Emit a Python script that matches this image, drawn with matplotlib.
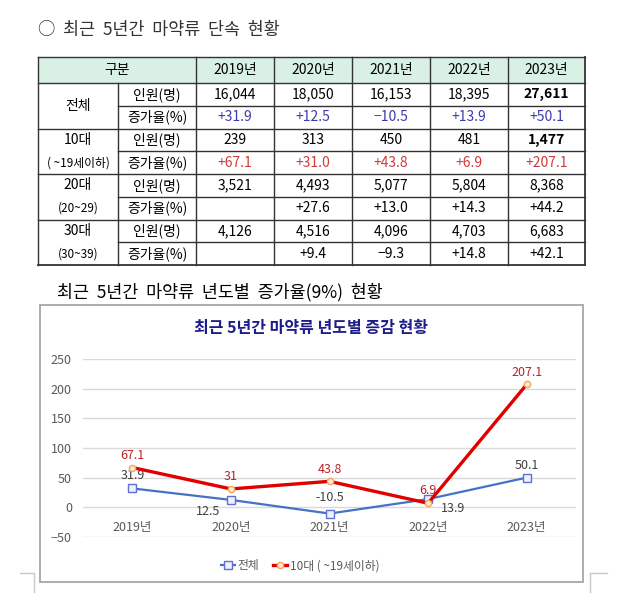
import numpy as np
import matplotlib
matplotlib.use('Agg')
import matplotlib.pyplot as plt
from matplotlib.patches import Rectangle

plt.rcParams['font.family'] = ['Noto Sans CJK KR', 'DejaVu Sans']

# data
years = ['2019년', '2020년', '2021년', '2022년', '2023년']
groups = ['전체', '10대', '20대', '30대']
group_notes = ['', '( ~19세이하)', '(20~29)', '(30~39)']
row_kinds = ['인원(명)', '증가율(%)']

count_all = [16044, 18050, 16153, 18395, 27611]
count_10s = [239, 313, 450, 481, 1477]
count_20s = [3521, 4493, 5077, 5804, 8368]
count_30s = [4126, 4516, 4096, 4703, 6683]

rate_all = [31.9, 12.5, -10.5, 13.9, 50.1]
rate_10s = [67.1, 31.0, 43.8, 6.9, 207.1]
rate_20s = [None, 27.6, 13.0, 14.3, 44.2]
rate_30s = [None, 9.4, -9.3, 14.8, 42.1]

series_names = ['전체', '10대 ( ~19세이하)']

counts = [count_all, count_10s, count_20s, count_30s]
rates = [rate_all, rate_10s, rate_20s, rate_30s]

W, H = 626, 600
fig = plt.figure(figsize=(W / 100, H / 100), dpi=100)

# background axes in pixel units (headings, table, frame)
bg = fig.add_axes([0, 0, 1, 1])
bg.set_xlim(0, W)
bg.set_ylim(H, 0)
bg.axis('off')

bg.text(38, 30, '○  최근  5년간  마약류  단속  현황', fontsize=12.5, va='center', color='#333333')

# table
col_x = [38, 118, 196, 274, 352, 430, 508, 585]
head_top, head_bot = 57, 83
row_h = 22.75
row_y = [head_bot + i * row_h for i in range(9)]
line_c = '#333333'
rate_colors = ['#3b3bb0', '#d03a3a', 'black', 'black']
bold_last = [True, True, False, False]

bg.add_patch(Rectangle((col_x[0], head_top), col_x[-1] - col_x[0], head_bot - head_top,
                       facecolor='#d9f1e5', edgecolor='none'))
bg.text((col_x[0] + col_x[2]) / 2, (head_top + head_bot) / 2, '구분', ha='center', va='center', fontsize=10)
for i, y in enumerate(years):
    bg.text((col_x[i + 2] + col_x[i + 3]) / 2, (head_top + head_bot) / 2, y,
            ha='center', va='center', fontsize=10)

# grid lines
bg.plot([col_x[0], col_x[-1]], [head_top, head_top], color=line_c, lw=1)
for g in range(len(groups)):
    bg.plot([col_x[0], col_x[-1]], [row_y[2 * g], row_y[2 * g]], color=line_c, lw=1)
    bg.plot([col_x[1], col_x[-1]], [row_y[2 * g + 1], row_y[2 * g + 1]], color=line_c, lw=1)
bg.plot([col_x[0], col_x[-1]], [row_y[-1], row_y[-1]], color=line_c, lw=1.3)
for k, xx in enumerate(col_x):
    top = head_bot if k == 1 else head_top
    bg.plot([xx, xx], [top, row_y[-1]], color=line_c, lw=1.3 if k == len(col_x) - 1 else 1)

def fmt_rate(v):
    if v is None:
        return ''
    return ('+' if v >= 0 else '−') + '{:.1f}'.format(abs(v))

for g in range(len(groups)):
    cx0 = (col_x[0] + col_x[1]) / 2
    if group_notes[g]:
        bg.text(cx0, (row_y[2 * g] + row_y[2 * g + 1]) / 2, groups[g], ha='center', va='center', fontsize=10)
        bg.text(cx0, (row_y[2 * g + 1] + row_y[2 * g + 2]) / 2, group_notes[g], ha='center', va='center', fontsize=8.5)
    else:
        bg.text(cx0, row_y[2 * g + 1], groups[g], ha='center', va='center', fontsize=10)
    for r in range(2):
        cy = (row_y[2 * g + r] + row_y[2 * g + r + 1]) / 2
        bg.text((col_x[1] + col_x[2]) / 2, cy, row_kinds[r], ha='center', va='center', fontsize=10)
    for i in range(len(years)):
        cx = (col_x[i + 2] + col_x[i + 3]) / 2
        cy = (row_y[2 * g] + row_y[2 * g + 1]) / 2
        bold = bold_last[g] and i == len(years) - 1
        bg.text(cx, cy, '{:,}'.format(counts[g][i]), ha='center', va='center', fontsize=10,
                fontweight='bold' if bold else 'normal')
        cy = (row_y[2 * g + 1] + row_y[2 * g + 2]) / 2
        bg.text(cx, cy, fmt_rate(rates[g][i]), ha='center', va='center', fontsize=10,
                color=rate_colors[g])

# second heading + chart frame
bg.text(57, 292, '최근  5년간  마약류  년도별  증가율(9%)  현황', fontsize=12.5, va='center', color='black')
bg.add_patch(Rectangle((40, 305), 543, 277, facecolor='none', edgecolor='#a6a6a6', lw=1.3))
bg.text(311, 328, '최근 5년간 마약류 년도별 증감 현황', ha='center', va='center',
        fontsize=11.5, fontweight='bold', color='#1c1c8a')

# page corner marks
bg.plot([20, 34, 34], [573, 573, 592], color='#c8c8c8', lw=1)
bg.plot([607, 590, 590], [573, 573, 592], color='#c8c8c8', lw=1)

# line chart
ax = fig.add_axes([83 / W, 1 - 537 / H, (576 - 83) / W, (537 - 359) / H])
x = np.arange(len(years))
ax.set_xlim(-0.5, len(years) - 0.5)
ax.set_ylim(-50, 250)
ax.set_yticks(np.arange(-50, 251, 50))
ax.grid(axis='y', color='#d9d9d9', lw=1)
ax.set_axisbelow(True)
for s in ax.spines.values():
    s.set_visible(False)
ax.spines['bottom'].set_position(('data', 0))
ax.set_xticks(x, years)
ax.tick_params(length=0, labelsize=9, colors='#595959')
ax.tick_params(axis='x', pad=10)
ax.tick_params(axis='y', pad=8)

l1, = ax.plot(x, rate_all, color='#4472c4', lw=1.6, marker='s', ms=5.5,
              mfc='#eef0fb', mec='#6070d0', mew=1, zorder=3)
l2, = ax.plot(x, rate_10s, color='#e00000', lw=2.4, marker='o', ms=4.5,
              mfc='#fde9cf', mec='#f2a65a', mew=1, zorder=4)

blue_off = [(0, 13), (-23, -12), (0, 16), (25, -9), (0, 12)]
red_off = [(0, 12), (0, 12), (0, 12), (0, 13), (0, 12)]
for i in range(len(years)):
    ax.annotate('{:g}'.format(rate_all[i]), (x[i], rate_all[i]), xytext=blue_off[i],
                textcoords='offset pixels', ha='center', va='center', fontsize=9, color='#404040')
    ax.annotate('{:g}'.format(rate_10s[i]), (x[i], rate_10s[i]), xytext=red_off[i],
                textcoords='offset pixels', ha='center', va='center', fontsize=9, color='#b8242a')

fig.legend([l1, l2], series_names, loc='center', bbox_to_anchor=(300 / W, 1 - 566 / H),
           ncol=2, frameon=False, fontsize=8.5, handlelength=1.2, columnspacing=1.2,
           handletextpad=0.2, labelcolor='#595959')

fig.savefig('out.png', dpi=100)
